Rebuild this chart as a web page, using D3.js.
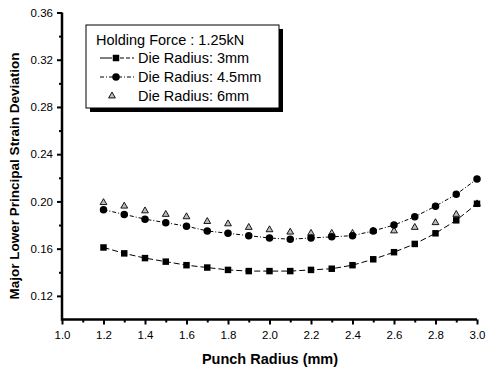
<!DOCTYPE html>
<html>
<head>
<meta charset="utf-8">
<script src="https://cdn.jsdelivr.net/npm/d3@7"></script>
<style>
  body { margin: 0; background: #fff; }
  text { font-family: "Liberation Sans", Arial, sans-serif; }
</style>
</head>
<body>
<div id="chart"></div>
<script>
// punch radius (mm)
var punchRadius = [1.2, 1.3, 1.4, 1.5, 1.6, 1.7, 1.8, 1.9, 2.0, 2.1, 2.2, 2.3, 2.4, 2.5, 2.6, 2.7, 2.8, 2.9, 3.0];
// strain deviation per die radius
var die3 = [0.161, 0.156, 0.152, 0.149, 0.146, 0.144, 0.142, 0.141, 0.141, 0.141, 0.142, 0.143, 0.146, 0.151, 0.157, 0.164, 0.173, 0.184, 0.198];
var die45 = [0.193, 0.189, 0.185, 0.182, 0.179, 0.175, 0.173, 0.171, 0.169, 0.168, 0.169, 0.170, 0.171, 0.175, 0.180, 0.187, 0.196, 0.206, 0.219];
var die6 = [0.199, 0.196, 0.192, 0.189, 0.187, 0.183, 0.181, 0.178, 0.176, 0.174, 0.173, 0.173, 0.173, 0.175, 0.175, 0.178, 0.182, 0.189, 0.198];
var xTicks = [1.0, 1.2, 1.4, 1.6, 1.8, 2.0, 2.2, 2.4, 2.6, 2.8, 3.0];
var yTicks = [0.12, 0.16, 0.20, 0.24, 0.28, 0.32, 0.36];
var legendTitle = "Holding Force : 1.25kN";
var legendLabels = ["Die Radius: 3mm", "Die Radius: 4.5mm", "Die Radius: 6mm"];

var W = 486, H = 368;
var svg = d3.select("#chart").append("svg").attr("width", W).attr("height", H);

var x = d3.scaleLinear().domain([1.0, 3.0]).range([62, 477]);
var y = d3.scaleLinear().domain([0.10, 0.36]).range([319.5, 12.5]);

// axes
var xAxis = d3.axisBottom(x).tickValues(xTicks).tickFormat(d3.format(".1f")).tickSize(5).tickPadding(6);
var xMinor = d3.axisBottom(x).tickValues(d3.range(1.1, 3.0, 0.2)).tickFormat("").tickSize(3);
var yAxis = d3.axisLeft(y).tickValues(yTicks).tickFormat(d3.format(".2f")).tickSize(5).tickPadding(4);
var yMinor = d3.axisLeft(y).tickValues(d3.range(0.14, 0.35, 0.04)).tickFormat("").tickSize(3);

function styleAxis(g) {
    g.select(".domain").attr("stroke-width", 2.5).attr("stroke", "#000");
    g.selectAll(".tick line").attr("stroke-width", 2).attr("stroke", "#000");
    g.selectAll("text").attr("font-size", 11.5).attr("fill", "#000");
}

svg.append("g").attr("transform", "translate(0,319.5)").call(xMinor).call(styleAxis);
svg.append("g").attr("transform", "translate(0,319.5)").call(xAxis).call(styleAxis);
svg.append("g").attr("transform", "translate(62,0)").call(yMinor).call(styleAxis);
svg.append("g").attr("transform", "translate(62,0)").call(yAxis).call(styleAxis);
svg.selectAll(".domain").attr("d", null);
svg.append("path").attr("d", d3.line()([[x(1.0), y(0.36)], [x(1.0), y(0.10)], [x(3.0), y(0.10)]]))
    .attr("fill", "none").attr("stroke", "#000").attr("stroke-width", 2.5);

// axis titles
svg.append("text").attr("x", 270).attr("y", 364).attr("text-anchor", "middle")
    .attr("font-size", 14.5).attr("font-weight", "bold").text("Punch Radius (mm)");
svg.append("text").attr("transform", "translate(19," + 176 + ") rotate(-90)")
    .attr("text-anchor", "middle").attr("font-size", 13.5).attr("font-weight", "bold")
    .text("Major Lower Principal Strain Deviation");

var line = d3.line().x(function(d) { return x(d[0]); }).y(function(d) { return y(d[1]); });
var s3 = d3.zip(punchRadius, die3);
var s45 = d3.zip(punchRadius, die45);
var s6 = d3.zip(punchRadius, die6);

svg.append("path").datum(s3).attr("d", line).attr("fill", "none").attr("stroke", "#000")
    .attr("stroke-width", 1).attr("stroke-dasharray", "6,3");
svg.append("path").datum(s45).attr("d", line).attr("fill", "none").attr("stroke", "#000")
    .attr("stroke-width", 1).attr("stroke-dasharray", "4,2,1,2");

var sq = d3.symbol().type(d3.symbolSquare).size(42);
var ci = d3.symbol().type(d3.symbolCircle).size(44);
var tr = d3.symbol().type(d3.symbolTriangle).size(20);

svg.append("g").selectAll("path").data(s6).enter().append("path")
    .attr("d", tr).attr("transform", function(d) { return "translate(" + x(d[0]) + "," + y(d[1]) + ")"; })
    .attr("fill", "#bbb").attr("stroke", "#000").attr("stroke-width", 0.9);
svg.append("g").selectAll("path").data(s45).enter().append("path")
    .attr("d", ci).attr("transform", function(d) { return "translate(" + x(d[0]) + "," + y(d[1]) + ")"; })
    .attr("fill", "#000");
svg.append("g").selectAll("path").data(s3).enter().append("path")
    .attr("d", sq).attr("transform", function(d) { return "translate(" + x(d[0]) + "," + y(d[1]) + ")"; })
    .attr("fill", "#000");

// legend
var lg = svg.append("g");
lg.append("rect").attr("x", 90).attr("y", 29).attr("width", 193).attr("height", 83).attr("fill", "#000");
lg.append("rect").attr("x", 86).attr("y", 25).attr("width", 193).attr("height", 83)
    .attr("fill", "#fff").attr("stroke", "#000").attr("stroke-width", 1);
lg.append("text").attr("x", 96).attr("y", 45).attr("font-size", 14.5).text(legendTitle);
var rows = [63, 82, 101];
legendLabels.forEach(function(l, i) {
    lg.append("text").attr("x", 138).attr("y", rows[i]).attr("font-size", 14.5).text(l);
});
lg.append("line").attr("x1", 100).attr("x2", 112).attr("y1", 58).attr("y2", 58).attr("stroke", "#000");
lg.append("line").attr("x1", 120).attr("x2", 134).attr("y1", 58).attr("y2", 58).attr("stroke", "#000").attr("stroke-dasharray", "4,2");
lg.append("path").attr("d", sq).attr("transform", "translate(116,58)");
lg.append("line").attr("x1", 100).attr("x2", 134).attr("y1", 77).attr("y2", 77).attr("stroke", "#000").attr("stroke-dasharray", "4,2,1,2");
lg.append("path").attr("d", ci).attr("transform", "translate(116,77)");
lg.append("path").attr("d", tr).attr("transform", "translate(112,96)").attr("fill", "#bbb").attr("stroke", "#000").attr("stroke-width", 0.9);
</script>
</body>
</html>
